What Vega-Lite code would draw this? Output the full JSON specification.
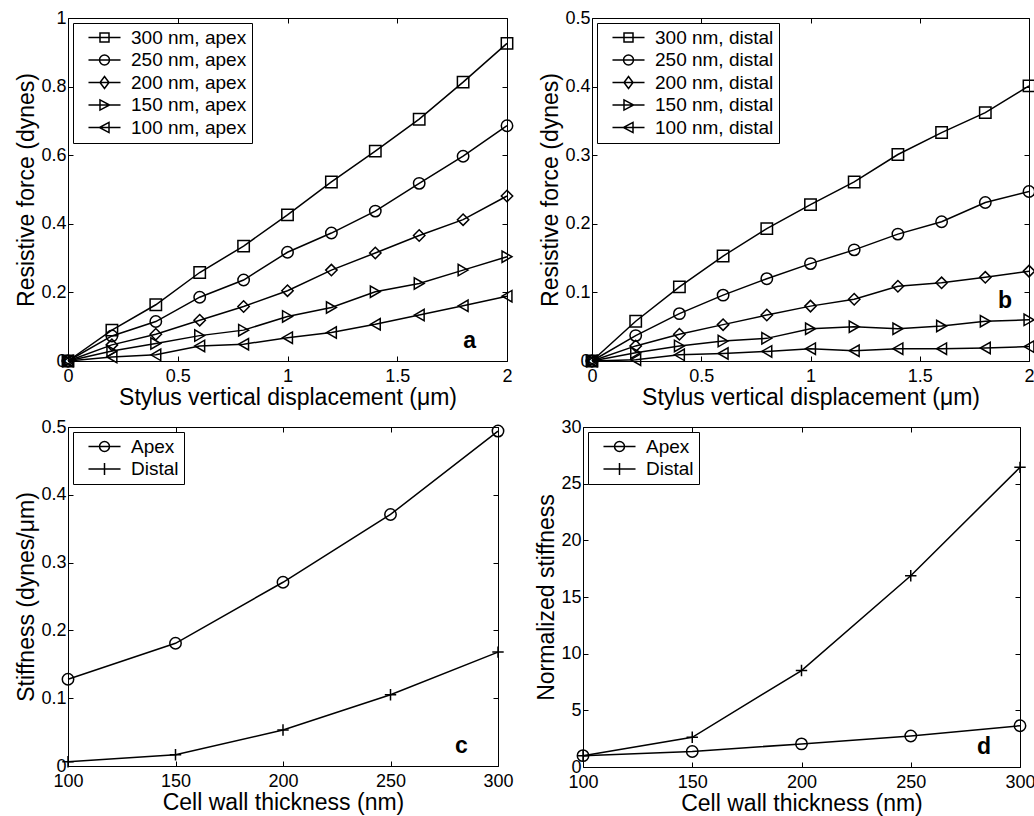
{
  "$schema": "https://vega.github.io/schema/vega-lite/v6.json",
  "background": "white",
  "padding": {"left": 15, "top": 8, "right": 0, "bottom": 0},
  "config": {
    "font": "Liberation Sans",
    "view": {"stroke": "black", "strokeWidth": 1},
    "axis": {
      "grid": false, "domain": false, "tickColor": "black", "tickSize": -5, "tickWidth": 1,
      "labelFont": "Liberation Sans", "labelFontSize": 18, "labelColor": "black", "labelPadding": 7,
      "labelFlush": false, "labelOverlap": false,
      "titleFont": "Liberation Sans", "titleFontSize": 23, "titleFontWeight": "normal", "titleColor": "black", "titlePadding": 2
    },
    "axisBottom": {"labelPadding": 11, "titlePadding": 1},
    "legend": {
      "orient": "top-left", "offset": 5, "padding": 5, "strokeColor": "black", "fillColor": "white",
      "labelFont": "Liberation Sans", "labelFontSize": 19, "labelColor": "black", "labelLimit": 400,
      "symbolSize": 144, "symbolStrokeWidth": 1.5, "symbolStrokeColor": "black", "symbolOffset": 17,
      "labelOffset": 17, "rowPadding": 2.5, "cornerRadius": 0
    }
  },
  "datasets": {
    "a": [
      {"x": 0, "y": 0, "s": "300 nm, apex"}, {"x": 0.2, "y": 0.090, "s": "300 nm, apex"}, {"x": 0.4, "y": 0.164, "s": "300 nm, apex"}, {"x": 0.6, "y": 0.258, "s": "300 nm, apex"}, {"x": 0.8, "y": 0.335, "s": "300 nm, apex"}, {"x": 1.0, "y": 0.426, "s": "300 nm, apex"}, {"x": 1.2, "y": 0.522, "s": "300 nm, apex"}, {"x": 1.4, "y": 0.612, "s": "300 nm, apex"}, {"x": 1.6, "y": 0.705, "s": "300 nm, apex"}, {"x": 1.8, "y": 0.813, "s": "300 nm, apex"}, {"x": 2.0, "y": 0.926, "s": "300 nm, apex"},
      {"x": 0, "y": 0, "s": "250 nm, apex"}, {"x": 0.2, "y": 0.073, "s": "250 nm, apex"}, {"x": 0.4, "y": 0.115, "s": "250 nm, apex"}, {"x": 0.6, "y": 0.186, "s": "250 nm, apex"}, {"x": 0.8, "y": 0.236, "s": "250 nm, apex"}, {"x": 1.0, "y": 0.317, "s": "250 nm, apex"}, {"x": 1.2, "y": 0.373, "s": "250 nm, apex"}, {"x": 1.4, "y": 0.437, "s": "250 nm, apex"}, {"x": 1.6, "y": 0.518, "s": "250 nm, apex"}, {"x": 1.8, "y": 0.597, "s": "250 nm, apex"}, {"x": 2.0, "y": 0.686, "s": "250 nm, apex"},
      {"x": 0, "y": 0, "s": "200 nm, apex"}, {"x": 0.2, "y": 0.047, "s": "200 nm, apex"}, {"x": 0.4, "y": 0.078, "s": "200 nm, apex"}, {"x": 0.6, "y": 0.119, "s": "200 nm, apex"}, {"x": 0.8, "y": 0.159, "s": "200 nm, apex"}, {"x": 1.0, "y": 0.205, "s": "200 nm, apex"}, {"x": 1.2, "y": 0.265, "s": "200 nm, apex"}, {"x": 1.4, "y": 0.315, "s": "200 nm, apex"}, {"x": 1.6, "y": 0.366, "s": "200 nm, apex"}, {"x": 1.8, "y": 0.412, "s": "200 nm, apex"}, {"x": 2.0, "y": 0.481, "s": "200 nm, apex"},
      {"x": 0, "y": 0, "s": "150 nm, apex"}, {"x": 0.2, "y": 0.029, "s": "150 nm, apex"}, {"x": 0.4, "y": 0.051, "s": "150 nm, apex"}, {"x": 0.6, "y": 0.074, "s": "150 nm, apex"}, {"x": 0.8, "y": 0.090, "s": "150 nm, apex"}, {"x": 1.0, "y": 0.130, "s": "150 nm, apex"}, {"x": 1.2, "y": 0.156, "s": "150 nm, apex"}, {"x": 1.4, "y": 0.202, "s": "150 nm, apex"}, {"x": 1.6, "y": 0.226, "s": "150 nm, apex"}, {"x": 1.8, "y": 0.265, "s": "150 nm, apex"}, {"x": 2.0, "y": 0.304, "s": "150 nm, apex"},
      {"x": 0, "y": 0, "s": "100 nm, apex"}, {"x": 0.2, "y": 0.012, "s": "100 nm, apex"}, {"x": 0.4, "y": 0.018, "s": "100 nm, apex"}, {"x": 0.6, "y": 0.044, "s": "100 nm, apex"}, {"x": 0.8, "y": 0.049, "s": "100 nm, apex"}, {"x": 1.0, "y": 0.068, "s": "100 nm, apex"}, {"x": 1.2, "y": 0.083, "s": "100 nm, apex"}, {"x": 1.4, "y": 0.107, "s": "100 nm, apex"}, {"x": 1.6, "y": 0.134, "s": "100 nm, apex"}, {"x": 1.8, "y": 0.161, "s": "100 nm, apex"}, {"x": 2.0, "y": 0.189, "s": "100 nm, apex"}
    ],
    "b": [
      {"x": 0, "y": 0, "s": "300 nm, distal"}, {"x": 0.2, "y": 0.058, "s": "300 nm, distal"}, {"x": 0.4, "y": 0.108, "s": "300 nm, distal"}, {"x": 0.6, "y": 0.153, "s": "300 nm, distal"}, {"x": 0.8, "y": 0.193, "s": "300 nm, distal"}, {"x": 1.0, "y": 0.228, "s": "300 nm, distal"}, {"x": 1.2, "y": 0.261, "s": "300 nm, distal"}, {"x": 1.4, "y": 0.301, "s": "300 nm, distal"}, {"x": 1.6, "y": 0.333, "s": "300 nm, distal"}, {"x": 1.8, "y": 0.362, "s": "300 nm, distal"}, {"x": 2.0, "y": 0.401, "s": "300 nm, distal"},
      {"x": 0, "y": 0, "s": "250 nm, distal"}, {"x": 0.2, "y": 0.037, "s": "250 nm, distal"}, {"x": 0.4, "y": 0.069, "s": "250 nm, distal"}, {"x": 0.6, "y": 0.096, "s": "250 nm, distal"}, {"x": 0.8, "y": 0.120, "s": "250 nm, distal"}, {"x": 1.0, "y": 0.142, "s": "250 nm, distal"}, {"x": 1.2, "y": 0.162, "s": "250 nm, distal"}, {"x": 1.4, "y": 0.185, "s": "250 nm, distal"}, {"x": 1.6, "y": 0.203, "s": "250 nm, distal"}, {"x": 1.8, "y": 0.231, "s": "250 nm, distal"}, {"x": 2.0, "y": 0.247, "s": "250 nm, distal"},
      {"x": 0, "y": 0, "s": "200 nm, distal"}, {"x": 0.2, "y": 0.022, "s": "200 nm, distal"}, {"x": 0.4, "y": 0.039, "s": "200 nm, distal"}, {"x": 0.6, "y": 0.053, "s": "200 nm, distal"}, {"x": 0.8, "y": 0.067, "s": "200 nm, distal"}, {"x": 1.0, "y": 0.080, "s": "200 nm, distal"}, {"x": 1.2, "y": 0.090, "s": "200 nm, distal"}, {"x": 1.4, "y": 0.109, "s": "200 nm, distal"}, {"x": 1.6, "y": 0.114, "s": "200 nm, distal"}, {"x": 1.8, "y": 0.122, "s": "200 nm, distal"}, {"x": 2.0, "y": 0.131, "s": "200 nm, distal"},
      {"x": 0, "y": 0, "s": "150 nm, distal"}, {"x": 0.2, "y": 0.012, "s": "150 nm, distal"}, {"x": 0.4, "y": 0.022, "s": "150 nm, distal"}, {"x": 0.6, "y": 0.029, "s": "150 nm, distal"}, {"x": 0.8, "y": 0.033, "s": "150 nm, distal"}, {"x": 1.0, "y": 0.047, "s": "150 nm, distal"}, {"x": 1.2, "y": 0.050, "s": "150 nm, distal"}, {"x": 1.4, "y": 0.047, "s": "150 nm, distal"}, {"x": 1.6, "y": 0.051, "s": "150 nm, distal"}, {"x": 1.8, "y": 0.058, "s": "150 nm, distal"}, {"x": 2.0, "y": 0.060, "s": "150 nm, distal"},
      {"x": 0, "y": 0, "s": "100 nm, distal"}, {"x": 0.2, "y": 0.002, "s": "100 nm, distal"}, {"x": 0.4, "y": 0.009, "s": "100 nm, distal"}, {"x": 0.6, "y": 0.011, "s": "100 nm, distal"}, {"x": 0.8, "y": 0.014, "s": "100 nm, distal"}, {"x": 1.0, "y": 0.018, "s": "100 nm, distal"}, {"x": 1.2, "y": 0.015, "s": "100 nm, distal"}, {"x": 1.4, "y": 0.018, "s": "100 nm, distal"}, {"x": 1.6, "y": 0.018, "s": "100 nm, distal"}, {"x": 1.8, "y": 0.019, "s": "100 nm, distal"}, {"x": 2.0, "y": 0.021, "s": "100 nm, distal"}
    ],
    "c": [
      {"x": 100, "y": 0.128, "s": "Apex"}, {"x": 150, "y": 0.181, "s": "Apex"}, {"x": 200, "y": 0.271, "s": "Apex"}, {"x": 250, "y": 0.371, "s": "Apex"}, {"x": 300, "y": 0.494, "s": "Apex"},
      {"x": 100, "y": 0.0063, "s": "Distal"}, {"x": 150, "y": 0.0165, "s": "Distal"}, {"x": 200, "y": 0.053, "s": "Distal"}, {"x": 250, "y": 0.105, "s": "Distal"}, {"x": 300, "y": 0.168, "s": "Distal"}
    ],
    "d": [
      {"x": 100, "y": 1.0, "s": "Apex"}, {"x": 150, "y": 1.37, "s": "Apex"}, {"x": 200, "y": 2.04, "s": "Apex"}, {"x": 250, "y": 2.74, "s": "Apex"}, {"x": 300, "y": 3.64, "s": "Apex"},
      {"x": 100, "y": 1.0, "s": "Distal"}, {"x": 150, "y": 2.62, "s": "Distal"}, {"x": 200, "y": 8.51, "s": "Distal"}, {"x": 250, "y": 16.88, "s": "Distal"}, {"x": 300, "y": 26.44, "s": "Distal"}
    ]
  },
  "resolve": {"scale": {"shape": "independent"}, "legend": {"shape": "independent"}},
  "spacing": 7,
  "vconcat": [
    {
      "hconcat": [
        {
          "width": 439, "height": 343,
          "data": {"name": "a"},
          "layer": [
            {
              "mark": {"type": "line", "color": "black", "strokeWidth": 1.5},
              "encoding": {
                "x": {"field": "x", "type": "quantitative", "scale": {"domain": [0, 2], "nice": false, "zero": false}, "axis": {"orient": "bottom", "title": "Stylus vertical displacement (μm)", "values": [0, 0.5, 1, 1.5, 2], "format": "~r"}},
                "y": {"field": "y", "type": "quantitative", "scale": {"domain": [0, 1], "nice": false}, "axis": {"orient": "left", "title": "Resistive force (dynes)", "values": [0, 0.2, 0.4, 0.6, 0.8, 1], "format": "~r"}},
                "detail": {"field": "s", "type": "nominal"}
              }
            },
            {
              "mark": {"type": "point", "filled": false, "color": "black", "size": 130, "strokeWidth": 1.5, "opacity": 1},
              "encoding": {
                "x": {"field": "x", "type": "quantitative", "axis": {"orient": "top", "labels": false, "title": null, "values": [0, 0.5, 1, 1.5, 2]}},
                "y": {"field": "y", "type": "quantitative", "axis": {"orient": "right", "labels": false, "title": null, "values": [0, 0.2, 0.4, 0.6, 0.8, 1]}},
                "shape": {
                  "field": "s", "type": "nominal",
                  "scale": {"domain": ["300 nm, apex", "250 nm, apex", "200 nm, apex", "150 nm, apex", "100 nm, apex"], "range": ["square", "circle", "diamond", "triangle-right", "triangle-left"]},
                  "legend": null
                }
              }
            },
            {
              "mark": {"type": "point", "filled": false, "color": "black", "size": 0, "strokeWidth": 1.5, "opacity": 1},
              "encoding": {
                "x": {"field": "x", "type": "quantitative", "axis": null},
                "y": {"field": "y", "type": "quantitative", "axis": null},
                "shape": {
                  "field": "s", "type": "nominal",
                  "scale": {"domain": ["300 nm, apex", "250 nm, apex", "200 nm, apex", "150 nm, apex", "100 nm, apex"], "range": ["M-2.67,0H2.67M-0.75,-0.75H0.75V0.75H-0.75Z", "M-2.67,0H2.67M0.83,0A0.83,0.83,0,1,1,-0.83,0A0.83,0.83,0,1,1,0.83,0Z", "M-2.67,0H2.67M0,-1L0.75,0L0,1L-0.75,0Z", "M-2.67,0H2.67M-0.75,-0.85L0.85,0L-0.75,0.85Z", "M-2.67,0H2.67M0.75,-0.85L-0.85,0L0.75,0.85Z"]},
                  "legend": {"title": null}
                }
              }
            },
            {
              "data": {"values": [{"t": "a", "x": 1.83, "y": 0.058}]},
              "mark": {"type": "text", "fontWeight": "bold", "fontSize": 23, "color": "black", "align": "center", "baseline": "middle"},
              "encoding": {
                "x": {"field": "x", "type": "quantitative", "axis": null},
                "y": {"field": "y", "type": "quantitative", "axis": null},
                "text": {"field": "t", "type": "nominal"}
              }
            }
          ],
          "resolve": {"axis": {"x": "independent", "y": "independent"}, "scale": {"shape": "independent"}, "legend": {"shape": "independent"}}
        },
        {
          "width": 437, "height": 343,
          "data": {"name": "b"},
          "layer": [
            {
              "mark": {"type": "line", "color": "black", "strokeWidth": 1.5},
              "encoding": {
                "x": {"field": "x", "type": "quantitative", "scale": {"domain": [0, 2], "nice": false, "zero": false}, "axis": {"orient": "bottom", "title": "Stylus vertical displacement (μm)", "values": [0, 0.5, 1, 1.5, 2], "format": "~r"}},
                "y": {"field": "y", "type": "quantitative", "scale": {"domain": [0, 0.5], "nice": false}, "axis": {"orient": "left", "title": "Resistive force (dynes)", "values": [0, 0.1, 0.2, 0.3, 0.4, 0.5], "format": "~r"}},
                "detail": {"field": "s", "type": "nominal"}
              }
            },
            {
              "mark": {"type": "point", "filled": false, "color": "black", "size": 130, "strokeWidth": 1.5, "opacity": 1},
              "encoding": {
                "x": {"field": "x", "type": "quantitative", "axis": {"orient": "top", "labels": false, "title": null, "values": [0, 0.5, 1, 1.5, 2]}},
                "y": {"field": "y", "type": "quantitative", "axis": {"orient": "right", "labels": false, "title": null, "values": [0, 0.1, 0.2, 0.3, 0.4, 0.5]}},
                "shape": {
                  "field": "s", "type": "nominal",
                  "scale": {"domain": ["300 nm, distal", "250 nm, distal", "200 nm, distal", "150 nm, distal", "100 nm, distal"], "range": ["square", "circle", "diamond", "triangle-right", "triangle-left"]},
                  "legend": null
                }
              }
            },
            {
              "mark": {"type": "point", "filled": false, "color": "black", "size": 0, "strokeWidth": 1.5, "opacity": 1},
              "encoding": {
                "x": {"field": "x", "type": "quantitative", "axis": null},
                "y": {"field": "y", "type": "quantitative", "axis": null},
                "shape": {
                  "field": "s", "type": "nominal",
                  "scale": {"domain": ["300 nm, distal", "250 nm, distal", "200 nm, distal", "150 nm, distal", "100 nm, distal"], "range": ["M-2.67,0H2.67M-0.75,-0.75H0.75V0.75H-0.75Z", "M-2.67,0H2.67M0.83,0A0.83,0.83,0,1,1,-0.83,0A0.83,0.83,0,1,1,0.83,0Z", "M-2.67,0H2.67M0,-1L0.75,0L0,1L-0.75,0Z", "M-2.67,0H2.67M-0.75,-0.85L0.85,0L-0.75,0.85Z", "M-2.67,0H2.67M0.75,-0.85L-0.85,0L0.75,0.85Z"]},
                  "legend": {"title": null}
                }
              }
            },
            {
              "data": {"values": [{"t": "b", "x": 1.89, "y": 0.087}]},
              "mark": {"type": "text", "fontWeight": "bold", "fontSize": 23, "color": "black", "align": "center", "baseline": "middle"},
              "encoding": {
                "x": {"field": "x", "type": "quantitative", "axis": null},
                "y": {"field": "y", "type": "quantitative", "axis": null},
                "text": {"field": "t", "type": "nominal"}
              }
            }
          ],
          "resolve": {"axis": {"x": "independent", "y": "independent"}, "scale": {"shape": "independent"}, "legend": {"shape": "independent"}}
        }
      ],
      "spacing": 85,
      "bounds": "flush",
      "resolve": {"scale": {"shape": "independent"}, "legend": {"shape": "independent"}}
    },
    {
      "hconcat": [
        {
          "width": 430, "height": 339,
          "data": {"name": "c"},
          "layer": [
            {
              "mark": {"type": "line", "color": "black", "strokeWidth": 1.5},
              "encoding": {
                "x": {"field": "x", "type": "quantitative", "scale": {"domain": [100, 300], "nice": false, "zero": false}, "axis": {"orient": "bottom", "title": "Cell wall thickness (nm)", "values": [100, 150, 200, 250, 300], "format": "~r"}},
                "y": {"field": "y", "type": "quantitative", "scale": {"domain": [0, 0.5], "nice": false}, "axis": {"orient": "left", "title": "Stiffness (dynes/μm)", "values": [0, 0.1, 0.2, 0.3, 0.4, 0.5], "format": "~r"}},
                "detail": {"field": "s", "type": "nominal"}
              }
            },
            {
              "mark": {"type": "point", "filled": false, "color": "black", "size": 130, "strokeWidth": 1.5, "opacity": 1},
              "encoding": {
                "x": {"field": "x", "type": "quantitative", "axis": {"orient": "top", "labels": false, "title": null, "values": [100, 150, 200, 250, 300]}},
                "y": {"field": "y", "type": "quantitative", "axis": {"orient": "right", "labels": false, "title": null, "values": [0, 0.1, 0.2, 0.3, 0.4, 0.5]}},
                "shape": {
                  "field": "s", "type": "nominal",
                  "scale": {"domain": ["Apex", "Distal"], "range": ["circle", "M-1,0H1M0,-1V1"]},
                  "legend": null
                }
              }
            },
            {
              "mark": {"type": "point", "filled": false, "color": "black", "size": 0, "strokeWidth": 1.5, "opacity": 1},
              "encoding": {
                "x": {"field": "x", "type": "quantitative", "axis": null},
                "y": {"field": "y", "type": "quantitative", "axis": null},
                "shape": {
                  "field": "s", "type": "nominal",
                  "scale": {"domain": ["Apex", "Distal"], "range": ["M-2.67,0H2.67M0.83,0A0.83,0.83,0,1,1,-0.83,0A0.83,0.83,0,1,1,0.83,0Z", "M-2.67,0H2.67M0,-1V1"]},
                  "legend": {"title": null}
                }
              }
            },
            {
              "data": {"values": [{"t": "c", "x": 283, "y": 0.03}]},
              "mark": {"type": "text", "fontWeight": "bold", "fontSize": 23, "color": "black", "align": "center", "baseline": "middle"},
              "encoding": {
                "x": {"field": "x", "type": "quantitative", "axis": null},
                "y": {"field": "y", "type": "quantitative", "axis": null},
                "text": {"field": "t", "type": "nominal"}
              }
            }
          ],
          "resolve": {"axis": {"x": "independent", "y": "independent"}, "scale": {"shape": "independent"}, "legend": {"shape": "independent"}}
        },
        {
          "width": 437, "height": 340,
          "data": {"name": "d"},
          "layer": [
            {
              "mark": {"type": "line", "color": "black", "strokeWidth": 1.5},
              "encoding": {
                "x": {"field": "x", "type": "quantitative", "scale": {"domain": [100, 300], "nice": false, "zero": false}, "axis": {"orient": "bottom", "title": "Cell wall thickness (nm)", "values": [100, 150, 200, 250, 300], "format": "~r"}},
                "y": {"field": "y", "type": "quantitative", "scale": {"domain": [0, 30], "nice": false}, "axis": {"orient": "left", "title": "Normalized stiffness", "values": [0, 5, 10, 15, 20, 25, 30], "format": "~r"}},
                "detail": {"field": "s", "type": "nominal"}
              }
            },
            {
              "mark": {"type": "point", "filled": false, "color": "black", "size": 130, "strokeWidth": 1.5, "opacity": 1},
              "encoding": {
                "x": {"field": "x", "type": "quantitative", "axis": {"orient": "top", "labels": false, "title": null, "values": [100, 150, 200, 250, 300]}},
                "y": {"field": "y", "type": "quantitative", "axis": {"orient": "right", "labels": false, "title": null, "values": [0, 5, 10, 15, 20, 25, 30]}},
                "shape": {
                  "field": "s", "type": "nominal",
                  "scale": {"domain": ["Apex", "Distal"], "range": ["circle", "M-1,0H1M0,-1V1"]},
                  "legend": null
                }
              }
            },
            {
              "mark": {"type": "point", "filled": false, "color": "black", "size": 0, "strokeWidth": 1.5, "opacity": 1},
              "encoding": {
                "x": {"field": "x", "type": "quantitative", "axis": null},
                "y": {"field": "y", "type": "quantitative", "axis": null},
                "shape": {
                  "field": "s", "type": "nominal",
                  "scale": {"domain": ["Apex", "Distal"], "range": ["M-2.67,0H2.67M0.83,0A0.83,0.83,0,1,1,-0.83,0A0.83,0.83,0,1,1,0.83,0Z", "M-2.67,0H2.67M0,-1V1"]},
                  "legend": {"title": null}
                }
              }
            },
            {
              "data": {"values": [{"t": "d", "x": 283.5, "y": 1.8}]},
              "mark": {"type": "text", "fontWeight": "bold", "fontSize": 23, "color": "black", "align": "center", "baseline": "middle"},
              "encoding": {
                "x": {"field": "x", "type": "quantitative", "axis": null},
                "y": {"field": "y", "type": "quantitative", "axis": null},
                "text": {"field": "t", "type": "nominal"}
              }
            }
          ],
          "resolve": {"axis": {"x": "independent", "y": "independent"}, "scale": {"shape": "independent"}, "legend": {"shape": "independent"}}
        }
      ],
      "spacing": 85,
      "bounds": "flush",
      "resolve": {"scale": {"shape": "independent"}, "legend": {"shape": "independent"}}
    }
  ]
}
